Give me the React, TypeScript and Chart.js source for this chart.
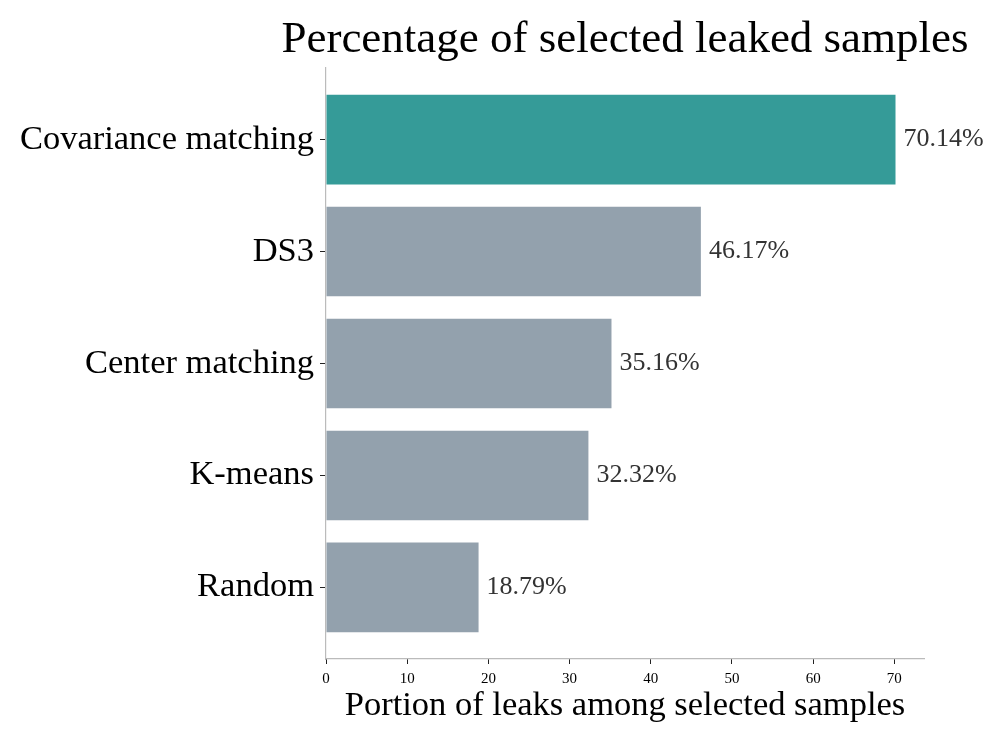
import React, { useEffect, useRef } from "react";
import { Chart, registerables } from "chart.js";

Chart.register(...registerables);

const categories = ["Covariance matching", "DS3", "Center matching", "K-means", "Random"];
const values = [70.14, 46.17, 35.16, 32.32, 18.79];
const barColors = ["#359b98", "#93a1ad", "#93a1ad", "#93a1ad", "#93a1ad"];
const xTicks = [0, 10, 20, 30, 40, 50, 60, 70];
const chartTitle = "Percentage of selected leaked samples";
const xTitle = "Portion of leaks among selected samples";

const FONT = "'Liberation Serif', 'Times New Roman', serif";

export default function App() {
  const ref = useRef<HTMLCanvasElement | null>(null);
  useEffect(() => {
    if (!ref.current) return;
    const titlePlugin = {
      id: "axTitle",
      afterDraw(chart: any) {
        const { ctx, chartArea } = chart;
        ctx.save();
        ctx.font = `45px ${FONT}`;
        ctx.fillStyle = "#000";
        ctx.textAlign = "center";
        ctx.textBaseline = "middle";
        ctx.fillText(chartTitle, (chartArea.left + chartArea.right) / 2, 40);
        ctx.restore();
      },
    };
    const labelPlugin = {
      id: "barLabels",
      afterDatasetsDraw(chart: any) {
        const { ctx } = chart;
        const meta = chart.getDatasetMeta(0);
        ctx.save();
        ctx.font = `26px ${FONT}`;
        ctx.fillStyle = "#333";
        ctx.textAlign = "left";
        ctx.textBaseline = "middle";
        meta.data.forEach((bar: any, i: number) => {
          ctx.fillText(values[i].toFixed(2) + "%", bar.x + 8, bar.y);
        });
        ctx.restore();
      },
    };
    const chart = new Chart(ref.current, {
      type: "bar",
      data: {
        datasets: [
          {
            data: values.map((v, i) => ({ x: v, y: i })) as any,
            backgroundColor: barColors,
            borderWidth: 0,
            barPercentage: 0.8,
            categoryPercentage: 1,
          },
        ],
      },
      options: {
        indexAxis: "y",
        animation: false,
        responsive: true,
        maintainAspectRatio: false,
        layout: { padding: { top: 68, right: 73, left: 0, bottom: 0 } },
        plugins: { legend: { display: false }, tooltip: { enabled: false }, title: { display: false } },
        scales: {
          x: {
            type: "linear",
            min: 0,
            max: 73.65,
            offset: false,
            afterBuildTicks: (scale: any) => {
              scale.ticks = xTicks.map((v) => ({ value: v }));
            },
            afterFit: (scale: any) => {
              scale.height = 88;
            },
            border: { display: true, color: "#bbbbbb", width: 1.2 },
            grid: { display: true, offset: false, drawOnChartArea: false, drawTicks: true, tickLength: 5, tickColor: "#222" },
            ticks: { color: "#000", font: { family: FONT, size: 15 }, padding: 6, maxRotation: 0 },
            title: {
              display: true,
              text: xTitle,
              color: "#000",
              font: { family: FONT, size: 34.5 },
              padding: { top: 0, bottom: 20 },
            },
          },
          y: {
            type: "linear",
            min: -0.64,
            max: 4.64,
            reverse: true,
            offset: false,
            afterBuildTicks: (scale: any) => {
              scale.ticks = categories.map((_, i) => ({ value: i }));
            },
            afterFit: (scale: any) => {
              scale.width = 326;
            },
            border: { display: true, color: "#bbbbbb", width: 1.2 },
            grid: { display: true, offset: false, drawOnChartArea: false, drawTicks: true, tickLength: 6, tickColor: "#222" },
            ticks: {
              color: "#000",
              font: { family: FONT, size: 34.5 },
              padding: 6,
              callback: (v: any) => categories[v as number] ?? "",
            },
          },
        },
      },
      plugins: [titlePlugin, labelPlugin],
    } as any);
    return () => chart.destroy();
  }, []);
  return (
    <div style={{ position: "absolute", left: 0, top: 0, width: 997, height: 747, background: "#fff" }}>
      <canvas ref={ref} />
    </div>
  );
}
